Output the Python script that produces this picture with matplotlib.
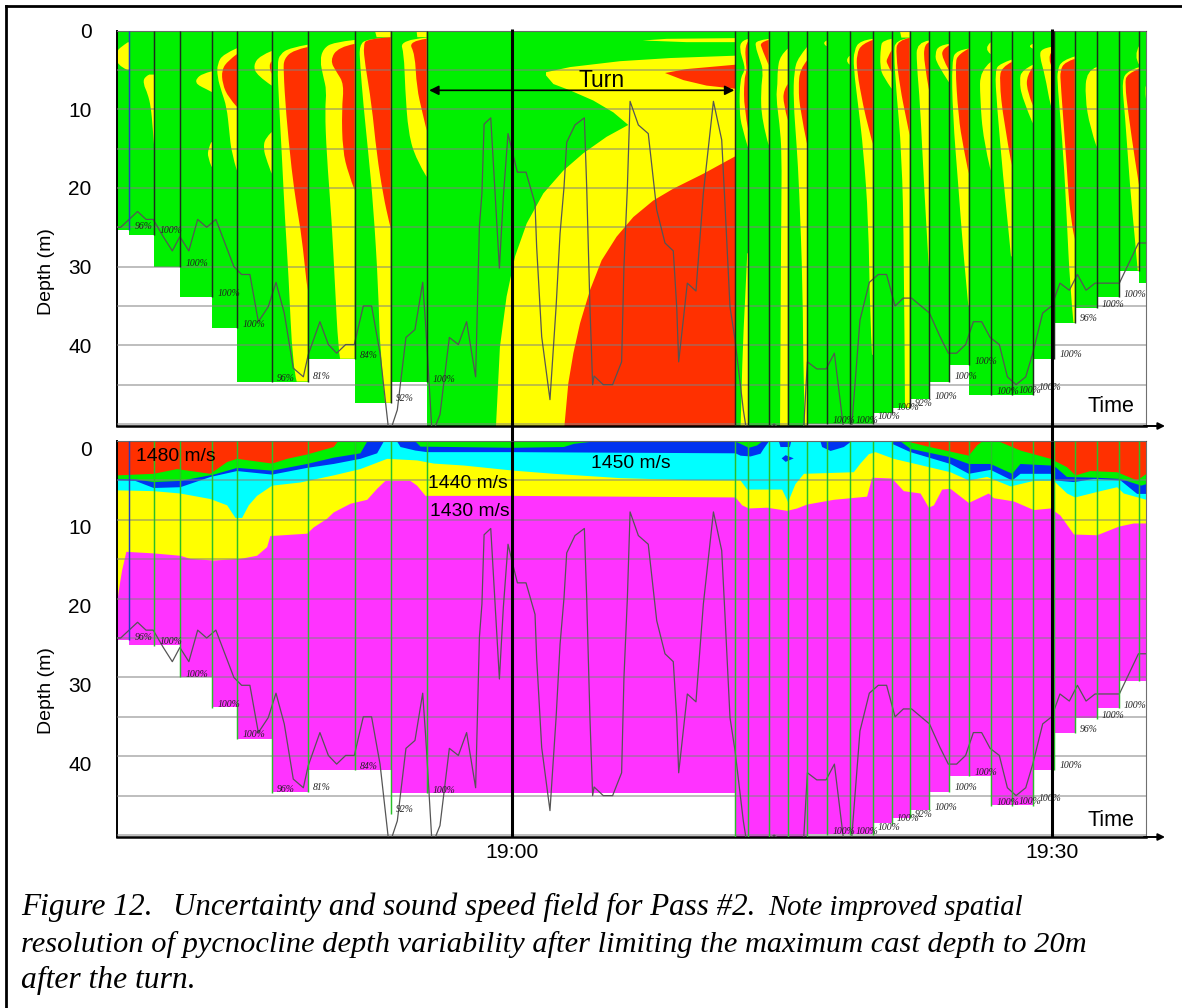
import numpy as np
import matplotlib
matplotlib.use("Agg")
import matplotlib.pyplot as plt
from matplotlib.lines import Line2D
from matplotlib.patches import PathPatch
from matplotlib.path import Path
from matplotlib.ticker import MultipleLocator
from matplotlib.transforms import ScaledTranslation

plt.rcParams["font.family"] = "Liberation Sans"

# time is minutes relative to 19:00, depth is metres
cast_edges = [-21.96, -21.28, -19.87, -18.46, -16.65, -15.28, -13.35, -11.35, -8.74, -6.74, -4.74,
              12.39, 13.13, 14.26, 15.32, 16.39, 17.48, 18.76, 20.04, 21.09, 22.09, 23.17, 24.28,
              25.37, 26.59, 27.76, 28.93, 30.11, 31.26, 32.48, 33.71, 34.85, 35.22]
cast_depth = [25.3, 26.0, 30.0, 33.9, 37.8, 44.7, 44.6, 41.7, 47.3, 44.7, 50.3,
              50.3, 50.3, 50.3, 50.3, 50.0, 50.0, 50.0, 48.6, 47.9, 46.8, 44.6,
              42.5, 46.3, 46.3, 46.3, 41.7, 37.1, 35.3, 33.9, 30.5, 32.1]
sound_depth = [25.3, 25.9, 25.9, 29.9, 33.8, 37.8, 44.6, 41.7, 41.7, 44.7, 44.7,
               50.3, 50.3, 50.3, 50.3, 49.9, 49.9, 49.9, 48.5, 47.9, 46.8, 44.6,
               42.5, 42.5, 46.2, 46.2, 41.7, 37.1, 35.2, 33.9, 30.4, 30.4]

# (cell, depths, distance of the contour from the right side of the cell)
yellow_bands = [
    (0, [1.5, 2.1, 2.7, 4.4, 5.0], [.06, .46, .69, .69, .09]),
    (1, [5.6, 5.9, 6.8, 8.0, 9.7, 12.3, 14.4], [.28, .56, .61, .37, .19, .09, .02]),
    (3, [5.2, 5.5, 6.1, 6.6, 7.0, 7.4, 7.8], [.06, .56, .87, .91, .74, .37, .04]),
    (3, [14.2, 15, 16.1, 17.3], [.06, .22, .26, .04]),
    (4, [2.25, 3, 4.2, 5.9, 7.8, 9.7, 12.7, 15.6, 17.8], [0, .76, 1.09, 1.09, .85, .57, .43, .3, 0]),
    (5, [2.6, 3.2, 4.4, 5.7, 7], [0, .65, 1.02, .83, 0]),
    (5, [12.9, 13.7, 15, 16.5, 18.2], [0, .37, .46, .28, 0]),
    (6, [1.8, 2.2, 3, 4.2, 9.3, 15.6, 24, 30.8, 42.7, 44.6], [0, .98, 1.54, 1.69, 1.59, 1.44, 1.26, 1.07, .83, .61]),
    (7, [1.2, 1.5, 2.3, 3.8, 5.9, 7.6, 10.1, 15.6, 24, 32.5, 40.4, 41.7], [0, 1.19, 1.74, 1.93, 1.74, 1.56, 1.65, 1.56, 1.28, 1.09, .91, .81]),
    (8, [.85, 1.05, 1.9, 4.2, 9.3, 15.6, 22.4, 32.5, 41, 47.3], [0, 1.33, 1.74, 1.7, 1.52, 1.24, .96, .69, .59, .31]),
    (8, [.05, .85], [.87, .78]),
    (9, [.9, 1.2, 3, 7.2, 13.1, 16.5, 18.6], [0, 1.48, 1.26, 1.2, 1.02, .56, 0]),
    (9, [.05, .85], [.56, .52]),
    (11, [1.06, 1.27, 2.3, 4.2, 5.07, 6.1, 10.1, 12.3, 15], [0, .37, .5, .24, .19, .46, .5, .37, 0]),
    (11, [28.3, 34.7, 41, 50.3], [.06, .19, .33, .43]),
    (12, [1.06, 1.27, 1.9, 3.8, 5.07, 7.6, 11.4, 14.6], [0, .67, .76, .48, .3, .44, .39, 0]),
    (13, [2.3, 3.2, 5.07, 6.8, 8.5, 11.8, 15.6, 24, 50.3], [0, .43, .57, .57, .65, .46, .33, .37, .43]),
    (14, [2.1, 3.4, 5.07, 8.9, 14.8, 19.9, 32.5, 45.2, 50.3], [0, .48, .72, .76, .57, .44, .24, .2, .11]),
    (15, [1.27, 1.6, 2], [0, .28, 0]),
    (16, [3.2, 3.8, 4.35], [0, .3, 0]),
    (17, [1.06, 1.27, 2.5, 4.65, 9.7, 15.2, 24, 36.3, 41.2], [0, .7, 1.04, 1.07, .8, .52, .24, .15, .04]),
    (18, [1.06, 1.27, 2.1, 4.65, 5.9, 7.4], [0, .5, .61, .65, .46, 0]),
    (19, [.93, 1.2, 3, 7.2, 15.6, 28.3, 47.9], [0, .81, .87, .76, .44, .31, .26]),
    (19, [.05, .9], [.54, .46]),
    (20, [1.27, 1.5, 4.2, 9.3, 19.9, 30], [0, .69, .69, .5, .28, .02]),
    (21, [1.7, 1.9, 3, 4.2, 6.6], [0, .59, .78, .69, 0]),
    (22, [2.3, 2.5, 3.8, 10.6, 19.9, 28.3, 35], [0, .67, .94, .89, .57, .3, .02]),
    (23, [1.5, 2.3, 3], [0, .41, 0]),
    (23, [4, 5.07, 8.5, 13.9, 17.8], [0, .59, .59, .41, 0]),
    (24, [3.7, 4.2, 5.07, 9.3, 19, 24, 28.7], [0, .65, .93, .83, .46, .24, .04]),
    (25, [1.7, 2, 2.3], [0, .33, 0]),
    (25, [4.35, 5.07, 6.3, 8.5, 11.8], [0, .61, .74, .61, 0]),
    (26, [2.1, 2.3, 3.2, 5.7, 9.7, 11], [.19, .69, .81, .5, .19, 0]),
    (27, [3.3, 3.8, 5.07, 6.8, 15.6, 24, 32.5, 37.1], [0, .72, .96, .96, .63, .44, .26, .07]),
    (28, [4.65, 5.07, 8.5, 12.3, 14.8], [0, .56, .65, .37, 0]),
    (30, [1.9, 3.2, 4.4], [0, .33, 0]),
    (30, [4.65, 5.07, 6.3, 10.6, 19.9, 26.6, 30.5], [0, .61, .98, .8, .52, .24, .09]),
    (31, [7, 7.4, 8.7], [0, .07, 0]),
]
red_bands = [
    (4, [3, 3.8, 5, 6.8, 8.5, 9.7], [0, .48, .85, .8, .48, 0]),
    (5, [3.9, 4.4, 5.5], [0, .22, 0]),
    (6, [2.1, 2.5, 3.6, 5, 10.6, 17.8, 22.4, 26.2, 32.1, 33], [0, .8, 1.31, 1.35, 1.2, .89, .61, .33, .06, 0]),
    (7, [1.7, 2.1, 3.8, 5.3, 6.8, 10.1, 15.2, 18.2, 20.3], [0, .91, 1.37, 1, .59, .72, .67, .35, 0]),
    (8, [.85, 1.05, 1.9, 4.2, 9.3, 15.6, 21, 24.5, 25.1], [0, 1.33, 1.52, 1.43, 1.06, .78, .41, .07, 0]),
    (9, [1.05, 1.35, 3, 7.2, 10.6, 12.7], [0, 1.02, .65, .56, .22, 0]),
    (11, [1.35, 1.9, 4.2, 5.07, 6.3, 9.9, 12.7], [0, .19, .13, .09, .24, .24, 0]),
    (12, [1.2, 1.5, 2.3, 4.4], [0, .48, .39, 0]),
    (13, [6.8, 7.6, 9.3, 11.4], [0, .24, .24, 0]),
    (14, [3.8, 4.9, 7.2, 10.1, 14.4], [0, .39, .48, .39, 0]),
    (17, [1.2, 1.7, 3, 5.07, 9.7, 12.3, 14.4], [0, .61, .89, .89, .52, .24, 0]),
    (18, [2.5, 3.6, 4.2, 5.3], [0, .28, .28, 0]),
    (19, [.93, 1.27, 3, 7.2, 11.4, 13.3], [0, .69, .76, .54, .17, 0]),
    (20, [1.5, 1.7, 4.2, 7.6], [0, .28, .28, 0]),
    (21, [1.9, 2.3, 3.4, 5.07], [0, .35, .41, 0]),
    (22, [2.3, 3, 4.2, 11, 14.8, 18.2], [0, .57, .76, .57, .3, 0]),
    (24, [4, 4.65, 6.3, 11.4, 17.1], [0, .56, .69, .46, 0]),
    (25, [4.65, 5.7, 7.6, 9.5], [0, .33, .33, 0]),
    (26, [2.45, 3.2, 5.3], [0, .5, 0]),
    (27, [3.6, 4, 5.07, 6.8, 17.3, 23.7, 26.5], [0, .54, .81, .78, .44, .26, 0]),
    (30, [4.85, 5.5, 6.8, 10.6, 16.5, 19.9], [0, .7, .8, .61, .24, 0]),
]

# contours during the turn
turn_yellow_x = [1.89, 3.22, 6.0, 8.78, 12.39, 12.39, -0.89, -0.67, -0.30, 0.17, 0.82, 1.74, 2.85, 3.96,
                 5.26, 6.46, 5.63, 4.52, 3.22, 2.30, 1.89]
turn_yellow_d = [5.3, 4.65, 3.9, 3.5, 3.2, 50.3, 50.3, 40.2, 33.8, 28.7, 24.5, 20.7, 17.8, 15.6,
                 13.5, 12.0, 10.4, 8.9, 7.6, 6.8, 5.7]
turn_sliver_x = [7.26, 8.59, 12.39, 12.39, 9.70, 7.26]
turn_sliver_d = [1.27, 1.06, 0.97, 1.48, 1.48, 1.27]
turn_red_top_x = [8.50, 9.70, 12.39, 12.39, 10.81, 9.52]
turn_red_top_d = [5.4, 4.9, 4.35, 7.4, 7.0, 6.3]
turn_red_x = [12.39, 10.63, 8.96, 7.85, 6.74, 5.81, 4.98, 4.33, 3.78, 3.41, 3.13, 2.91, 12.39]
turn_red_d = [16.0, 18.2, 20.1, 21.6, 23.7, 26.2, 29.2, 33.0, 37.2, 41.0, 44.8, 50.3, 50.3]

# towed body depth
track_time = [-21.96, -21.74, -20.80, -20.33, -19.93, -19.37, -18.87, -18.45, -17.95, -17.46,
              -16.96, -16.45, -15.95, -15.45, -15.02, -14.56, -14.09, -13.54, -13.11, -12.65,
              -12.15, -11.59, -11.32, -10.67, -10.20, -9.74, -9.24, -8.76, -8.26, -7.80,
              -7.33, -6.87, -6.69, -6.37, -5.89, -5.39, -4.96, -4.78, -4.46, -4.28,
              -4.00, -3.48, -2.98, -2.52, -2.02, -1.92, -1.81, -1.67, -1.55, -1.18,
              -0.70, -0.48, -0.22, 0.04, 0.30, 0.78, 1.28, 1.37, 1.65, 2.11,
              2.45, 2.67, 2.89, 3.04, 3.50, 4.02, 4.15, 4.33, 4.48, 4.56,
              5.07, 5.59, 6.09, 6.22, 6.41, 6.56, 7.02, 7.57, 8.04, 8.50,
              8.96, 9.15, 9.26, 9.74, 10.22, 10.63, 11.19, 11.65, 11.83, 12.11,
              12.39, 12.85, 13.0, 14.0, 14.56, 15.07, 16.19, 16.41, 16.93, 17.45,
              17.91, 18.41, 18.87, 19.33, 19.85, 20.35, 20.81, 21.28, 21.74, 22.2,
              23.19, 23.78, 24.24, 24.70, 25.20, 25.63, 26.09, 26.56, 27.07, 27.52,
              28.0, 28.54, 28.93, 29.48, 29.98, 30.44, 30.96, 31.41, 31.89, 32.39,
              33.74, 34.8, 35.19]
track_depth = [25.0, 25.0, 23.0, 24.0, 24.0, 26.2, 28.0, 26.2, 28.0, 24.0,
               25.0, 24.0, 27.0, 30.0, 31.0, 31.0, 37.0, 35.1, 32.0, 35.9,
               42.9, 44.0, 41.2, 37.0, 39.9, 41.0, 39.9, 39.9, 35.0, 35.0,
               41.0, 50.4, 50.4, 48.2, 39.0, 38.0, 32.0, 38.0, 50.4, 50.4,
               48.8, 39.0, 39.9, 37.0, 44.0, 35.1, 24.9, 20.7, 11.9, 11.1,
               30.2, 21.1, 13.1, 15.6, 18.0, 18.0, 22.0, 27.5, 38.9, 46.9,
               35.1, 25.8, 19.9, 14.2, 12.0, 11.1, 19.9, 35.1, 45.0, 43.9,
               45.0, 45.0, 42.1, 30.0, 19.9, 9.0, 12.0, 13.1, 22.8, 27.0,
               28.0, 35.1, 42.1, 32.1, 33.1, 20.7, 9.0, 13.9, 22.0, 35.1,
               39.3, 48.2, 50.4, 51.0, 50.0, 51.0, 51.0, 42.1, 43.0, 43.0,
               41.0, 50.4, 50.4, 36.8, 32.0, 31.0, 31.0, 35.0, 34.0, 34.0,
               35.9, 38.9, 41.0, 41.0, 39.9, 37.0, 37.0, 39.0, 39.9, 44.0,
               45.0, 44.0, 41.0, 35.9, 35.0, 32.1, 33.0, 31.0, 33.0, 32.1,
               32.1, 27.0, 27.0]

pct_labels = ["96%", "100%", "100%", "100%", "100%", "96%", "81%", "84%", "92%", "100%",
              "100%", "100%", "100%", "100%", "92%", "100%", "100%", "100%", "100%", "100%",
              "100%", "100%", "96%", "100%", "100%"]
pct_time = [-20.48, -18.93, -17.5, -15.7, -14.33, -12.58, -10.58, -7.98, -5.95, -3.78,
            18.45, 19.7, 20.96, 22.02, 22.89, 24.1, 25.2, 26.33, 27.57, 28.78,
            29.89, 31.04, 32.06, 33.41, 34.61]
pct_depth = [24.9, 25.4, 29.6, 33.4, 37.3, 44.2, 44.0, 41.3, 46.8, 44.3,
             49.5, 49.5, 49.0, 47.9, 47.4, 46.5, 44.0, 42.1, 45.9, 45.8,
             45.4, 41.2, 36.6, 34.8, 33.5]

# sound speed layers, painted from the deepest one up
layer_yellow_x = [-21.96, -21.87, -21.69, -21.45, -19.93, -18.45, -17.89, -16.59, -15.11, -14.19, -13.63, -13.45,
                  -11.41, -11.04, -10.30, -9.93, -9.0, -8.07, -7.52, -7.06, -5.67, -5.30, -4.83, 0.07, 6.0, 12.39,
                  12.76, 13.13, 14.15, 15.26, 15.81, 16.37, 17.85, 19.70, 19.98, 21.09, 21.74, 22.67, 23.13, 23.41,
                  23.87, 24.33, 25.35, 26.46, 26.74, 27.85, 28.96, 29.89, 30.44, 31.19, 32.48, 33.69, 34.52, 35.22]
layer_yellow_d = [20.6, 18.9, 16.4, 14.0, 14.2, 14.5, 14.9, 15.1, 14.9, 14.5, 13.4, 12.0,
                  11.7, 10.9, 9.8, 9.0, 7.9, 7.4, 6.0, 5.0, 5.0, 5.6, 6.9, 6.9, 7.0, 7.1,
                  8.1, 8.5, 8.4, 8.8, 8.5, 8.0, 7.4, 7.0, 4.6, 4.7, 6.3, 6.6, 8.4, 8.1,
                  6.1, 6.0, 7.8, 6.6, 7.2, 7.6, 8.7, 8.5, 9.4, 11.8, 11.9, 10.8, 10.4, 10.4]
layer_cyan_x = [-21.96, -19.93, -18.45, -16.78, -15.85, -15.39, -15.02, -14.65, -14.19, -13.35, -11.78, -9.93,
                -8.45, -6.96, -5.30, -4.37, -2.70, 0.07, 2.30, 6.0, 9.70, 12.39, 12.67, 13.04,
                14.98, 15.31, 15.72, 16.19, 18.96, 19.33, 19.8, 20.17, 21.18, 22.67, 24.33, 25.35, 26.37, 27.67,
                28.96, 30.07, 30.81, 31.26, 32.48, 33.59, 33.96, 35.22]
layer_cyan_d = [6.2, 6.3, 6.6, 7.3, 8.1, 9.7, 9.7, 8.1, 6.9, 5.6, 5.2, 4.3,
                3.5, 2.2, 2.4, 2.8, 3.05, 3.7, 4.1, 4.65, 4.9, 4.95, 4.95, 6.1,
                6.1, 7.7, 5.4, 4.1, 3.9, 2.8, 1.6, 1.35, 2.2, 3.0, 3.9, 4.95, 4.5, 5.7,
                5.0, 5.0, 6.6, 7.1, 6.4, 5.8, 6.6, 7.4]
blue_layers = [
    ([-21.96, -20.95, -19.93, -18.45, -16.78, -15.3, -13.35, -11.41, -9.93, -8.45, -7.52, -7.15],
     [4.95, 5.0, 5.9, 5.8, 4.5, 3.75, 4.2, 3.35, 2.85, 2.2, 1.5, 0]),
    ([-6.41, -6.22, -5.39, -4.74, 0.07, 12.39, 12.67, 13.22, 13.78, 13.96, 14.24],
     [0, .7, 1.15, 1.35, 1.35, 1.5, 1.8, 1.9, 1.55, .9, 0]),
    ([14.8, 14.89, 15.41, 15.48], [0, .7, .7, 0]),
    ([17.11, 17.2, 17.67, 18.41, 18.82], [0, .7, 1.2, .7, 0]),
    ([21.09, 22.11, 24.33, 25.35, 26.56, 27.76, 28.22, 29.89, 30.17, 31.19, 32.3, 33.78, 34.7, 35.22],
     [.3, 1.35, 2.85, 4.1, 3.6, 4.95, 4.1, 4.1, 4.95, 5.15, 4.75, 4.95, 6.65, 6.65]),
]
blue_spot_x = [14.98, 15.2, 15.65, 15.2]
blue_spot_d = [2.2, 1.8, 2.2, 2.65]
green_layers = [
    ([-21.96, -20.95, -19.93, -18.45, -16.59, -15.3, -13.35, -11.41, -9.93, -8.45, -8.07],
     [4.75, 4.8, 5.15, 5.0, 4.2, 3.35, 3.7, 2.85, 2.05, 1.5, 0]),
    ([-5.39, -5.11, 0.07, 2.85, 3.41, 4.52], [0, .65, .8, .7, .3, 0]),
    ([12.39, 12.67, 13.13, 13.59, 13.87], [0, .3, .8, .5, 0]),
    ([21.56, 22.11, 24.33, 25.35, 26.56, 27.76, 28.22, 29.89, 30.17, 30.8, 32.48, 33.78, 34.93, 35.22],
     [0, .93, 2.0, 2.85, 2.85, 4.1, 2.85, 3.05, 3.25, 4.5, 4.6, 4.75, 5.6, 5.4]),
]
red_layers = [
    ([-21.96, -19.93, -18.63, -16.78, -15.85, -15.3, -13.35, -12.52, -11.41, -9.93, -9.7],
     [4.3, 4.1, 3.5, 4.1, 2.6, 2.2, 2.8, 2.2, 1.65, .7, 0]),
    ([21.93, 23.04, 25.35, 25.81, 26.09, 27.02, 28.22, 29.89, 30.8, 31.28, 32.11, 33.59, 34.7, 35.22],
     [0, .63, 1.8, .5, 0, 0, 1.15, 2.2, 3.25, 4.3, 3.75, 3.9, 4.95, 4.1]),
]

speed_labels = ["1480 m/s", "1440 m/s", "1430 m/s", "1450 m/s"]
speed_time = [-18.7, -2.46, -2.33, 6.59]
speed_depth = [2.0, 5.45, 8.9, 2.9]

depth_ticks = [0, 10, 20, 30, 40]
time_ticks = [0, 30]
time_labels = ["19:00", "19:30"]
# text, left edge px, baseline px, size
caption = [("Figure 12.", 21, 915, 22.6),
           ("Uncertainty and sound speed field for Pass #2.", 173, 915, 22.3),
           ("Note improved spatial", 768, 915, 20.7),
           ("resolution of pycnocline depth variability after limiting the maximum cast depth to 20m", 21, 952, 21.85),
           ("after the turn.", 21, 988, 22.8)]

GREEN = "#00F000"
YELLOW = "#FFFF00"
RED = "#FF3000"
MAGENTA = "#FF33FF"
CYAN = "#00FFFF"
BLUE = "#0033F0"
W, H = 1182.0, 1008.0


def band_patch(right, depths, offs, color):
    # contour drawn as a curve, with the read points as control points, closed on the cell side
    pts = list(zip(right - np.array(offs), depths))
    verts = [(right, depths[0]), pts[0]]
    codes = [Path.MOVETO, Path.LINETO]
    for i in range(1, len(pts) - 1):
        end = pts[-1] if i == len(pts) - 2 else ((pts[i][0] + pts[i + 1][0]) / 2, (pts[i][1] + pts[i + 1][1]) / 2)
        verts += [pts[i], end]
        codes += [Path.CURVE3, Path.CURVE3]
    if len(pts) == 2:
        verts.append(pts[1])
        codes.append(Path.LINETO)
    verts += [(right, depths[-1]), (right, depths[0])]
    codes += [Path.LINETO, Path.CLOSEPOLY]
    return PathPatch(Path(verts, codes), facecolor=color, edgecolor="none", lw=0)


def setup_axes(ax):
    ax.set_xlim(-21.97, 35.22)
    ax.set_ylim(50.25, 0)
    ax.set_yticks(depth_ticks)
    ax.yaxis.set_minor_locator(MultipleLocator(5))
    ax.grid(which="both", axis="y", color="#808080", alpha=0.6, linewidth=1.2)
    ax.set_axisbelow(False)
    ax.tick_params(axis="both", which="both", length=0)
    ax.tick_params(axis="y", labelsize=15, pad=18)
    ax.spines["left"].set_linewidth(1.4)
    ax.spines["bottom"].set_linewidth(1.8)
    ax.spines["top"].set_color("#505050")
    ax.spines["right"].set_color("#707070")
    ax.set_ylabel("Depth (m)", fontsize=14)
    ax.annotate("", xy=(1.0185, 0), xytext=(0.998, 0), xycoords="axes fraction",
                arrowprops=dict(arrowstyle="-|>", color="k", lw=1.4, shrinkA=0, shrinkB=0), zorder=6)


def draw_common(ax, line_color):
    ax.plot(track_time, track_depth, color="#555555", lw=0.9, zorder=3)
    for i, d in enumerate(cast_depth[:-1]):
        c = "#2040C0" if i == 0 else line_color
        ax.plot([cast_edges[i + 1]] * 2, [0, d], color=c, lw=1.05, zorder=3, solid_capstyle="butt")
    for lab, t, d in zip(pct_labels, pct_time, pct_depth):
        ax.text(t, d, lab, fontsize=7, style="italic", family="Liberation Serif", color="#202020",
                ha="center", va="center", zorder=5, clip_on=False)


fig = plt.figure(figsize=(W / 100, H / 100), dpi=100)
ax1 = fig.add_axes([116.5 / W, 1 - 426 / H, (1146 - 116.5) / W, (426 - 30.5) / H])
ax2 = fig.add_axes([116.5 / W, 1 - 837 / H, (1146 - 116.5) / W, (837 - 441) / H])

# uncertainty panel
edges = np.array(cast_edges)
ax1.bar(edges[:-1], cast_depth, width=np.diff(edges), align="edge", color=GREEN, linewidth=0)
ax1.fill(turn_yellow_x, turn_yellow_d, color=YELLOW, lw=0)
ax1.fill(turn_sliver_x, turn_sliver_d, color=YELLOW, lw=0)
ax1.fill(turn_red_top_x, turn_red_top_d, color=RED, lw=0)
ax1.fill(turn_red_x, turn_red_d, color=RED, lw=0)
for bands, col in ((yellow_bands, YELLOW), (red_bands, RED)):
    for cell, depths, offs in bands:
        ax1.add_patch(band_patch(cast_edges[cell + 1], depths, offs, col))
setup_axes(ax1)
ax1.set_xticks([])
ax1.yaxis.set_label_coords(-0.06, 0.39)
draw_common(ax1, "#1C2C1C")
ax1.annotate("", xy=(-4.6, 7.6), xytext=(12.35, 7.6),
             arrowprops=dict(arrowstyle="<|-|>", color="k", lw=1.2, shrinkA=0, shrinkB=0, mutation_scale=14), zorder=6)
ax1.text(4.98, 6.3, "Turn", fontsize=16.5, ha="center", va="center", zorder=6)
ax1.text(33.25, 47.8, "Time", fontsize=15.5, ha="center", va="center", zorder=6)

# sound speed panel
ax2.bar(edges[:-1], sound_depth, width=np.diff(edges), align="edge", color=MAGENTA, linewidth=0)
ax2.fill_between(layer_yellow_x, 0, layer_yellow_d, color=YELLOW, lw=0)
ax2.fill_between(layer_cyan_x, 0, layer_cyan_d, color=CYAN, lw=0)
for x, d in blue_layers:
    ax2.fill_between(x, 0, d, color=BLUE, lw=0)
ax2.fill(blue_spot_x, blue_spot_d, color=BLUE, lw=0)
for x, d in green_layers:
    ax2.fill_between(x, 0, d, color=GREEN, lw=0)
for x, d in red_layers:
    ax2.fill_between(x, 0, d, color=RED, lw=0)
setup_axes(ax2)
ax2.set_xticks(time_ticks, time_labels, fontsize=15.3)
ax2.tick_params(axis="x", pad=4)
ax2.yaxis.set_label_coords(-0.06, 0.37)
shift = ScaledTranslation(0, -0.07, fig.dpi_scale_trans)
for lab in ax2.get_yticklabels():
    lab.set_transform(lab.get_transform() + shift)
draw_common(ax2, "#28C028")
for lab, t, d in zip(speed_labels, speed_time, speed_depth):
    ax2.text(t, d, lab, fontsize=13.9, ha="center", va="center", zorder=6)
ax2.text(33.25, 48.2, "Time", fontsize=15.5, ha="center", va="center", zorder=6)

# the two time marks run through both panels
for t in time_ticks:
    ax1.plot([t, t], [-0.2, 52.2], color="k", lw=2.2, zorder=6, clip_on=False, solid_capstyle="butt")
    ax2.plot([t, t], [0, 50.25], color="k", lw=2.2, zorder=6, solid_capstyle="butt")

# page frame, open on the right and at the bottom
fig.add_artist(Line2D([6 / W, 1], [1 - 6 / H, 1 - 6 / H], color="k", lw=2, transform=fig.transFigure))
fig.add_artist(Line2D([6 / W, 6 / W], [0, 1 - 6 / H], color="k", lw=2, transform=fig.transFigure))
for line, x, base, size in caption:
    fig.text(x / W, 1 - base / H, line, family="Liberation Serif", style="italic", fontsize=size,
             va="baseline", ha="left")

fig.savefig("out.png", dpi=100)
